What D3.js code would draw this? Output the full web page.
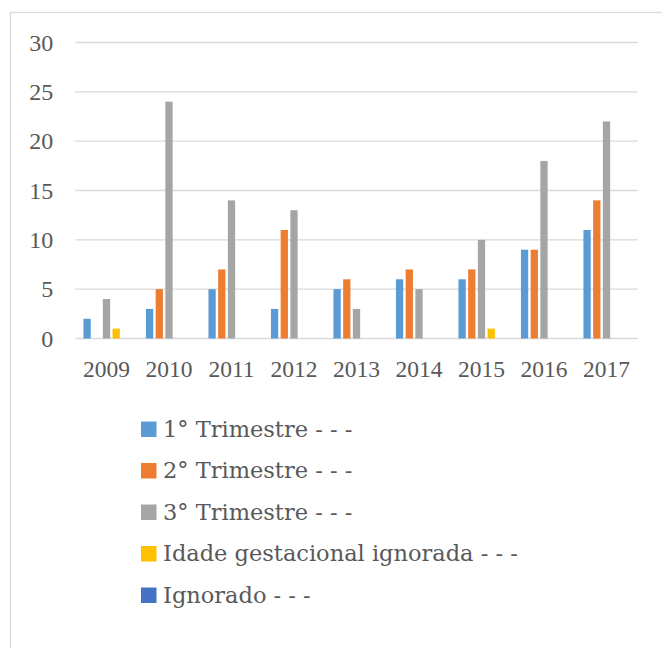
<!DOCTYPE html>
<html>
<head>
<meta charset="utf-8">
<script src="https://cdn.jsdelivr.net/npm/d3@7"></script>
<style>
  html, body { margin: 0; padding: 0; background: #fff; }
  svg { display: block; }
</style>
</head>
<body>
<svg id="chart" width="662" height="648"></svg>
<script>
// Gestational trimester at notification, by year
const years = ["2009", "2010", "2011", "2012", "2013", "2014", "2015", "2016", "2017"];
const seriesNames = [
  "1° Trimestre - - -",
  "2° Trimestre - - -",
  "3° Trimestre - - -",
  "Idade gestacional ignorada - - -",
  "Ignorado - - -"
];
const trimestre1 = [2, 3, 5, 3, 5, 6, 6, 9, 11];
const trimestre2 = [0, 5, 7, 11, 6, 7, 7, 9, 14];
const trimestre3 = [4, 24, 14, 13, 3, 5, 10, 18, 22];
const idadeIgnorada = [1, 0, 0, 0, 0, 0, 1, 0, 0];
const ignorado = [0, 0, 0, 0, 0, 0, 0, 0, 0];
const yTicks = [0, 5, 10, 15, 20, 25, 30];
const colors = ["#5B9BD5", "#ED7D31", "#A5A5A5", "#FFC000", "#4472C4"];

const seriesValues = [trimestre1, trimestre2, trimestre3, idadeIgnorada, ignorado];

const svg = d3.select("#chart");
const textColor = "#595959";
const gridColor = "#d9d9d9";

// chart frame (runs off the right and bottom edges)
svg.append("rect")
  .attr("x", 10.5).attr("y", 12.5)
  .attr("width", 700).attr("height", 700)
  .attr("fill", "none")
  .attr("stroke", gridColor)
  .attr("stroke-width", 1.2);

const plot = { left: 75.25, right: 637.75, top: 42.5, bottom: 338.5 };

const x = d3.scaleBand().domain(years).range([plot.left, plot.right]).padding(0);
const groupWidth = 46.1;
const xSeries = d3.scaleBand()
  .domain(d3.range(seriesNames.length))
  .range([(x.bandwidth() - groupWidth) / 2, (x.bandwidth() + groupWidth) / 2])
  .paddingInner(0.25).paddingOuter(0);
const y = d3.scaleLinear().domain([0, 30]).range([plot.bottom, plot.top]);

// horizontal gridlines
svg.append("g")
  .selectAll("line")
  .data(yTicks)
  .join("line")
  .attr("x1", plot.left).attr("x2", plot.right)
  .attr("y1", d => y(d)).attr("y2", d => y(d))
  .attr("stroke", gridColor)
  .attr("stroke-width", 1.3);

// value axis labels
const yAxis = svg.append("g")
  .attr("transform", `translate(${plot.left},0)`)
  .call(d3.axisLeft(y).tickValues(yTicks).tickSize(0).tickPadding(22));
yAxis.select(".domain").remove();
yAxis.selectAll("text")
  .attr("fill", textColor)
  .attr("font-family", "'Liberation Serif', serif")
  .attr("font-size", 24);

// bars
const groups = svg.append("g")
  .selectAll("g")
  .data(years)
  .join("g")
  .attr("transform", d => `translate(${x(d)},0)`);

groups.selectAll("rect")
  .data((yr, i) => seriesValues.map((vals, s) => ({ s, v: vals[i] })))
  .join("rect")
  .attr("x", d => xSeries(d.s))
  .attr("width", xSeries.bandwidth())
  .attr("y", d => y(d.v))
  .attr("height", d => y(0) - y(d.v))
  .attr("fill", d => colors[d.s]);

// category axis labels
const xAxis = svg.append("g")
  .attr("transform", `translate(0,${plot.bottom})`)
  .call(d3.axisBottom(x).tickSize(0).tickPadding(22));
xAxis.select(".domain").remove();
xAxis.selectAll("text")
  .attr("fill", textColor)
  .attr("font-family", "'Liberation Serif', serif")
  .attr("font-size", 23.5);

// legend
const legend = svg.append("g")
  .selectAll("g")
  .data(seriesNames)
  .join("g")
  .attr("transform", (d, i) => `translate(141,${429 + i * 41.5})`);

legend.append("rect")
  .attr("x", 0).attr("y", -7.5)
  .attr("width", 15.5).attr("height", 15.5)
  .attr("fill", (d, i) => colors[i]);

legend.append("text")
  .attr("x", 22)
  .attr("y", 7.5)
  .attr("fill", textColor)
  .attr("font-family", "'DejaVu Serif', serif")
  .attr("font-size", 22.5)
  .text(d => d);
</script>
</body>
</html>
